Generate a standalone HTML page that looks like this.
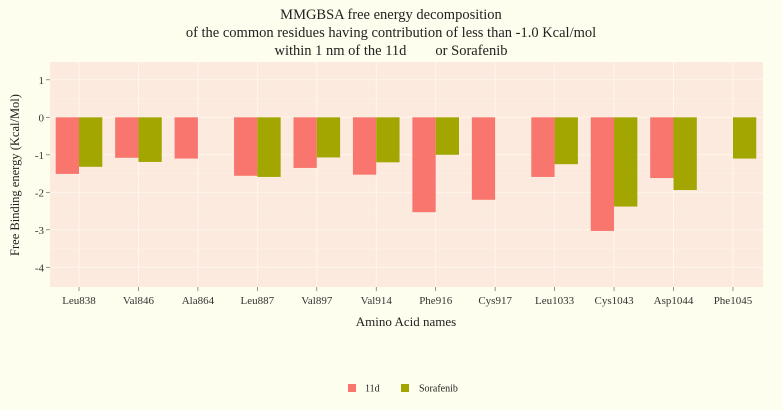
<!DOCTYPE html>
<html><head><meta charset="utf-8">
<style>
html,body{margin:0;padding:0;background:#fefeee;}
svg{display:block;font-family:"Liberation Serif",serif;}
</style></head>
<body>
<svg id="chart" width="782" height="410">
<rect width="782" height="410" fill="#fefeee"/>
<g font-size="14.5" fill="#222" text-anchor="middle">
<text x="391" y="19">MMGBSA free energy decomposition</text>
<text x="391" y="37">of the common residues having contribution of less than -1.0 Kcal/mol</text>
<text x="391" y="55">within 1 nm of the 11d&#160;&#160;&#160;&#160;&#160;&#160;&#160; or Sorafenib</text>
</g>
<rect x="50" y="62" width="713" height="225" fill="#fbeadd"/>
<g id="grid"></g>
<g id="bars"></g>
<g id="axes"></g>
<text x="19" y="175" font-size="12.5" fill="#222" text-anchor="middle" transform="rotate(-90 19 175)">Free Binding energy (Kcal/Mol)</text>
<text x="406" y="326" font-size="13" fill="#222" text-anchor="middle">Amino Acid names</text>
<g>
<rect x="348" y="384" width="8" height="8" fill="#f8766d"/>
<text x="365" y="391.5" font-size="10" fill="#222">11d</text>
<rect x="401" y="384" width="8" height="8" fill="#a3a500"/>
<text x="419" y="391.5" font-size="10" fill="#222">Sorafenib</text>
</g>
</svg>
<script>
const categories=["Leu838","Val846","Ala864","Leu887","Val897","Val914","Phe916","Cys917","Leu1033","Cys1043","Asp1044","Phe1045"];
const values11d=[-1.51,-1.08,-1.10,-1.56,-1.35,-1.53,-2.53,-2.20,-1.59,-3.03,-1.62,null];
const valuesSorafenib=[-1.32,-1.19,null,-1.59,-1.07,-1.20,-1.00,null,-1.25,-2.38,-1.94,-1.10];
const yTicks=[1,0,-1,-2,-3,-4];
const NS="http://www.w3.org/2000/svg";
const x0=79,step=59.45,bw=23.3;
function xPos(i){return x0+i*step;}
function yPos(v){return 117.3-v*37.5;}
function mk(tag,attrs,parent){const e=document.createElementNS(NS,tag);for(const k in attrs)e.setAttribute(k,attrs[k]);parent.appendChild(e);return e;}
const grid=document.getElementById('grid'),bars=document.getElementById('bars'),axes=document.getElementById('axes');
yTicks.forEach((t,i)=>{
  const y=yPos(t);
  const l=mk('line',{x1:50,x2:763,y1:y,y2:y,stroke:'#fff6ee','stroke-width':1},grid);
  
  
  if(i<yTicks.length-1){const ym=yPos(t-0.5);
    const m=mk('line',{x1:50,x2:763,y1:ym,y2:ym,stroke:'#fcf1e6','stroke-width':0.5},grid);
    
    }
  const tk=mk('line',{x1:46,x2:50,y1:y,y2:y,stroke:'#666','stroke-width':0.7},axes);
  
  
  const tx=mk('text',{x:44,y:y+4,'font-size':11,fill:'#333','text-anchor':'end'},axes);
  tx.textContent=t;
  
  
});
categories.forEach((c,i)=>{
  const x=xPos(i);
  const g=mk('line',{x1:x,x2:x,y1:62,y2:287,stroke:'#fff6ee','stroke-width':1},grid);
  
  
  const tk=mk('line',{x1:x,x2:x,y1:287,y2:291,stroke:'#666','stroke-width':0.7},axes);
  
  
  const tx=mk('text',{x:x,y:304,'font-size':11,fill:'#333','text-anchor':'middle'},axes);
  tx.textContent=c;
  
  
  [[values11d[i],x-bw,'#f8766d','bar-11d'],[valuesSorafenib[i],x,'#a3a500','bar-sorafenib']].forEach(([v,bx,col,nm])=>{
    if(v===null||v===undefined)return;
    const y1=yPos(0),y2=yPos(v);
    const r=mk('rect',{x:bx,y:Math.min(y1,y2),width:bw,height:Math.abs(y2-y1),fill:col},bars);
    
    
  });
});
</script>
</body></html>
